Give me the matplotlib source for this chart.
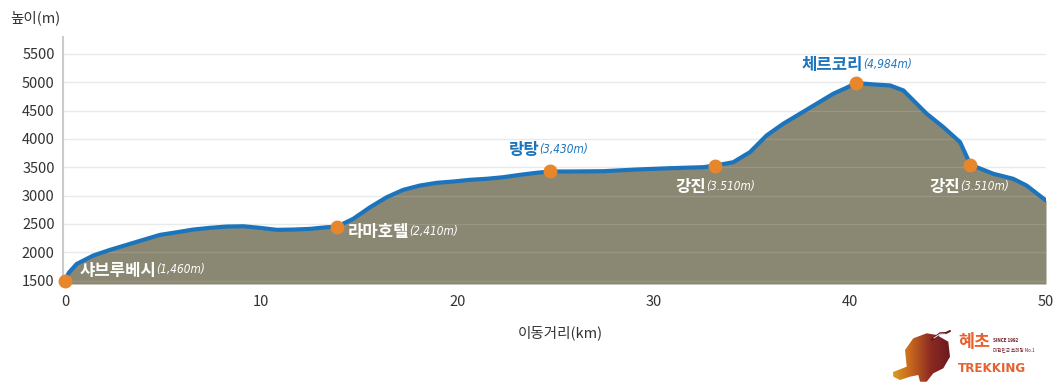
import matplotlib
matplotlib.use("Agg")
import matplotlib.pyplot as plt
import numpy as np
from matplotlib.patches import Polygon
from matplotlib.colors import LinearSegmentedColormap

plt.rcParams['font.family'] = ['Noto Sans CJK KR', 'DejaVu Sans']

# Elevation profile (km, m)
dist = [0, 0.2, 0.6, 1.44, 2.29, 3.14, 3.99, 4.84, 5.69, 6.54, 7.39, 8.24, 9.09,
        9.94, 10.79, 11.64, 12.49, 13.34, 13.85, 14.69, 15.55, 16.4, 17.24, 18.09,
        18.95, 19.79, 20.64, 21.49, 22.34, 23.19, 24.04, 24.72, 25.74, 27.44,
        29.14, 30.84, 32.53, 33.13, 34.06, 34.91, 35.76, 36.61, 37.46, 38.31,
        39.16, 39.84, 40.31, 41.2, 42.05, 42.73, 43.24, 43.92, 44.77, 45.62,
        46.13, 46.47, 47.32, 48.33, 49.01, 50]
elev = [1500, 1640, 1794, 1942, 2042, 2130, 2219, 2307, 2353, 2401, 2431, 2454, 2459,
        2431, 2396, 2401, 2413, 2442, 2450, 2590, 2795, 2972, 3102, 3178,
        3226, 3249, 3279, 3297, 3325, 3367, 3403, 3426, 3426, 3431,
        3461, 3484, 3502, 3530, 3590, 3767, 4062, 4269, 4445, 4622,
        4799, 4905, 4988, 4963, 4945, 4857, 4680, 4445, 4209, 3944,
        3560, 3502, 3385, 3297, 3178, 2913]

# Waypoints
wp_dist = [0, 13.85, 24.72, 33.13, 40.31, 46.13]
wp_elev = [1500, 2450, 3426, 3530, 4988, 3540]
wp_name = ["샤브루베시", "라마호텔", "랑탕", "강진", "체르코리", "강진"]
wp_alt = ["(1,460m)", "(2,410m)", "(3,430m)", "(3.510m)", "(4,984m)", "(3.510m)"]
# label anchor (km, m) and colour
lab_pos = [(0.75, 1677), (14.4, 2353), (22.6, 3797), (31.1, 3148), (37.55, 5299), (44.05, 3148)]
lab_col = ["white", "white", "#1C75BC", "white", "#1C75BC", "white"]

yticks = [1500, 2000, 2500, 3000, 3500, 4000, 4500, 5000, 5500]
xticks = [0, 10, 20, 30, 40, 50]

fig = plt.figure(figsize=(10.57, 3.86), dpi=100)
ax = fig.add_axes([63/1057, 1-284/386, (1046-63)/1057, (284-37)/386])

ymin = 1440
ax.fill_between(dist, elev, ymin, color="#8A8872", zorder=1, linewidth=0)
for yt in yticks:
    ax.axhline(yt, color="#E8E8E8", lw=1, zorder=0.5)
    ax.axhline(yt, color="white", lw=1, alpha=0.12, zorder=1.5)
ax.plot(dist, elev, color="#1C75BC", lw=3, zorder=3, solid_capstyle="round", solid_joinstyle="round")
ax.plot(wp_dist, wp_elev, 'o', color="#E8862C", ms=9, zorder=4, clip_on=False)

for (lx, ly), n, a, c in zip(lab_pos, wp_name, wp_alt, lab_col):
    t = ax.text(lx, ly, n, color=c, fontsize=12, fontweight='bold', va='center', ha='left', zorder=5)
    ax.annotate(a, xy=(1, 0.2), xycoords=t, color=c, fontsize=8.5, fontstyle='italic',
                va='bottom', ha='left', family=['DejaVu Sans'], fontstretch='condensed', zorder=5)

ax.set_xlim(-0.1, 50)
ax.set_ylim(ymin, 5800)
ax.set_xticks(xticks)
ax.set_yticks(yticks)
ax.tick_params(axis='both', length=0, labelsize=10.5, colors="#333333")
ax.tick_params(axis='x', pad=8)
ax.tick_params(axis='y', pad=6)
for s in ['top', 'right', 'bottom']:
    ax.spines[s].set_visible(False)
ax.spines['left'].set_color("#CCCCCC")
ax.spines['left'].set_linewidth(1.5)

fig.text(10/1057, 1-18/386, "높이(m)", fontsize=10.5, color="#333333", va='center', ha='left')
fig.text(560/1057, 1-333/386, "이동거리(km)", fontsize=10.5, color="#333333", va='center', ha='center')

# logo
orange = "#E8602C"
lax = fig.add_axes([890/1057, 1-384/386, 62/1057, 54/386])
lax.set_xlim(0, 62)
lax.set_ylim(0, 54)
lax.axis('off')
cmap = LinearSegmentedColormap.from_list("bull", ["#D9A520", "#C8661E", "#8A2A22", "#6A1820"])
grad = np.tile(np.linspace(0, 1, 64), (32, 1))
im = lax.imshow(grad, extent=[0, 62, 0, 54], cmap=cmap, aspect='auto', zorder=1)
body = Polygon([(3, 12), (16.7, 17.3), (15, 34), (23.3, 45.7), (36.7, 50.7), (46.7, 49),
                (58.3, 42.3), (60, 27.3), (53.3, 15.7), (43.3, 10.7), (36.7, 2.3),
                (30, 2.3), (28.3, 9), (20, 7.3), (10, 4), (3.3, 7.3)],
               closed=True, transform=lax.transData, facecolor='none', edgecolor='none')
lax.add_patch(body)
im.set_clip_path(body)
lax.plot([41.7, 50, 56, 60], [44, 50.7, 51, 53], color="#6A1820", lw=1.5, solid_capstyle='round')
lax.plot([44, 50, 55], [46, 50, 50], color="white", lw=0.6)
fig.text(958/1057, 1-342/386, "혜초", fontsize=12.5, fontweight='bold', color=orange, va='center', ha='left')
fig.text(993/1057, 1-340/386, "SINCE 1992", fontsize=3.3, fontweight='bold', color="#6A1820", va='center', ha='left')
fig.text(993/1057, 1-350/386, "대한민국 트레킹 No.1", fontsize=3.3, color="#6A1820", va='center', ha='left')
fig.text(958/1057, 1-369/386, "TREKKING", fontsize=9.5, fontweight='bold', color=orange, va='center', ha='left',
         family=['DejaVu Sans'], fontstretch='condensed')

fig.savefig("out.png", dpi=100)
